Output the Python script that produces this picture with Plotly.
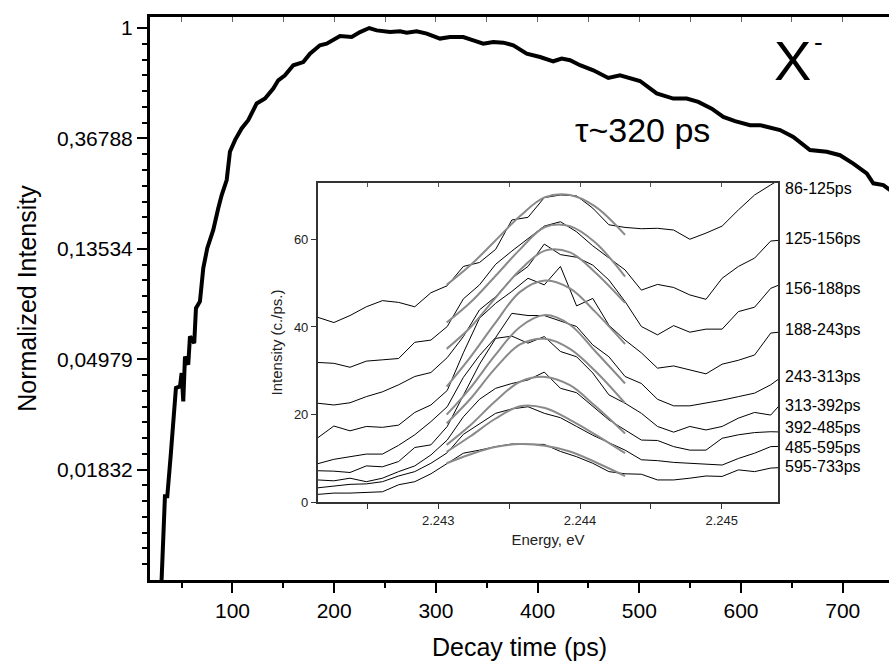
import numpy as np
import plotly.graph_objects as go

# ---------------- main decay curve ----------------
decay_time = [29.2, 30.4, 33.6, 35.9, 39.2, 44.4, 48.4, 50.0, 51.6, 53.3, 56.5, 58.2, 62.4, 64.1, 68.0,
              71.3, 75.2, 81.1, 86.0, 89.4, 94.3, 97.5, 102.5, 109.0, 115.5, 123.8, 132.0, 140.1, 145.0,
              151.6, 159.8, 169.6, 176.2, 186.0, 192.6, 199.1, 205.7, 217.2, 225.4, 234.5, 241.8, 254.9,
              264.7, 271.3, 281.1, 291.0, 304.0, 313.9, 326.9, 336.8, 346.6, 356.4, 366.3, 376.1, 389.3,
              402.4, 415.4, 423.7, 431.9, 441.7, 451.5, 454.8, 469.5, 481.0, 500.7, 517.1, 533.4, 546.6,
              558.0, 571.2, 582.6, 594.1, 608.9, 618.7, 638.4, 651.4, 667.8, 684.3, 697.3, 710.4, 723.6,
              730.1, 739.9, 744.8, 750.0]
norm_intensity = [0.00568, 0.0069, 0.0144, 0.0144, 0.0207, 0.0384, 0.0389, 0.0439, 0.0340, 0.0510, 0.0474,
                  0.0612, 0.0576, 0.0791, 0.0840, 0.1136, 0.1361, 0.1606, 0.1954, 0.2203, 0.2523, 0.3259,
                  0.3623, 0.4026, 0.434, 0.505, 0.528, 0.578, 0.623, 0.652, 0.714, 0.735, 0.793, 0.855,
                  0.868, 0.895, 0.930, 0.922, 0.964, 1.0, 0.979, 0.964, 0.971, 0.959, 0.971, 0.951, 0.909,
                  0.922, 0.922, 0.895, 0.868, 0.881, 0.876, 0.855, 0.793, 0.769, 0.740, 0.758, 0.747,
                  0.714, 0.693, 0.682, 0.636, 0.652, 0.619, 0.553, 0.528, 0.528, 0.512, 0.482, 0.447,
                  0.430, 0.415, 0.415, 0.397, 0.373, 0.331, 0.326, 0.316, 0.293, 0.268, 0.245, 0.241,
                  0.234, 0.225]

y_tickvals = [1, 0.36788, 0.13534, 0.04979, 0.01832]
y_ticktext = ["1", "0,36788", "0,13534", "0,04979", "0,01832"]
x_tickvals = [100, 200, 300, 400, 500, 600, 700]

# ---------------- inset spectra ----------------
energy = [2.242149, 2.242263, 2.242377, 2.242492, 2.242606, 2.242720, 2.242834, 2.242948, 2.243063,
          2.243177, 2.243291, 2.243405, 2.243519, 2.243633, 2.243748, 2.243862, 2.243976, 2.244090,
          2.244204, 2.244318, 2.244433, 2.244547, 2.244661, 2.244775, 2.244889, 2.245003, 2.245118,
          2.245232, 2.245346, 2.245460]

spec_86_125 = [42.2, 41.0, 42.6, 44.6, 46.0, 45.6, 44.6, 47.8, 49.4, 53.8, 54.7, 57.7, 64.4, 65.0, 69.5,
               70.1, 69.9, 67.1, 63.3, 62.7, 62.4, 62.5, 62.1, 60.0, 61.4, 63.0, 66.7, 70.1, 72.4, 74.6]
spec_125_156 = [31.9, 31.7, 30.8, 32.2, 32.5, 32.8, 36.5, 37.0, 40.1, 46.4, 49.6, 54.3, 57.3, 60.2, 63.0,
                64.0, 61.7, 58.5, 55.7, 53.0, 48.4, 49.7, 49.0, 47.3, 46.3, 51.1, 53.8, 55.7, 59.6, 59.9]
spec_156_188 = [22.6, 22.2, 22.7, 24.1, 25.2, 26.8, 28.7, 29.6, 33.0, 37.8, 43.9, 46.9, 51.1, 53.8, 58.9,
                56.5, 55.9, 54.1, 50.7, 45.8, 40.1, 38.2, 40.3, 38.8, 39.5, 39.5, 43.5, 44.5, 48.8, 50.3]
spec_188_243 = [14.7, 17.4, 16.3, 17.3, 17.1, 17.6, 20.5, 22.2, 25.5, 34.1, 42.0, 45.4, 48.1, 51.1, 49.6,
                53.8, 44.8, 46.5, 40.4, 37.0, 34.1, 30.6, 31.1, 30.2, 29.3, 31.5, 32.4, 33.6, 38.6, 39.0]
spec_243_313 = [8.8, 9.8, 10.4, 11.0, 11.0, 13.0, 15.4, 18.4, 21.8, 28.5, 33.5, 37.6, 43.1, 42.6, 42.6,
                41.4, 40.1, 35.9, 33.2, 28.7, 27.1, 23.5, 22.0, 22.0, 22.6, 23.3, 24.1, 24.9, 26.8, 29.5]
spec_313_392 = [7.2, 7.1, 6.8, 8.3, 8.1, 9.3, 12.5, 13.1, 17.3, 24.5, 31.5, 37.4, 37.9, 36.3, 37.8,
                34.4, 33.2, 29.5, 24.5, 22.6, 20.3, 17.3, 16.0, 17.3, 16.5, 17.3, 19.2, 20.5, 19.9, 24.0]
spec_392_485 = [5.1, 4.9, 5.5, 4.7, 5.5, 7.0, 8.3, 10.8, 14.2, 19.5, 23.5, 26.0, 27.1, 27.9, 29.7,
                26.0, 25.0, 21.8, 18.8, 16.5, 14.2, 14.1, 12.7, 11.9, 11.9, 14.6, 15.4, 15.9, 16.1, 16.0]
spec_485_595 = [3.3, 3.7, 4.1, 4.2, 4.7, 6.0, 7.0, 8.9, 11.3, 15.5, 18.0, 20.3, 21.3, 21.8, 20.3,
                19.3, 17.3, 15.3, 13.6, 11.9, 9.7, 9.5, 9.1, 8.9, 8.7, 8.5, 10.0, 11.2, 12.7, 12.8]
spec_595_733 = [1.8, 2.1, 2.1, 2.3, 2.4, 4.0, 4.7, 6.5, 8.9, 11.2, 11.9, 12.7, 13.3, 13.3, 13.2,
                11.6, 10.4, 8.9, 7.0, 6.5, 6.4, 5.1, 5.1, 5.5, 6.0, 5.9, 7.4, 7.0, 7.8, 8.0]

fit_energy = [2.243059, 2.243224, 2.243400, 2.243577, 2.243753, 2.243929, 2.244106, 2.244318]
fit_86_125 = [49.6, 54.0, 59.6, 65.3, 69.6, 70.1, 67.5, 61.0]
fit_125_156 = [41.0, 45.5, 51.5, 57.7, 62.8, 63.0, 59.3, 51.5]
fit_156_188 = [35.0, 39.8, 46.5, 53.0, 57.4, 57.0, 52.5, 45.5]
fit_188_243 = [26.4, 33.0, 40.8, 48.0, 50.6, 48.8, 43.5, 36.1]
fit_243_313 = [20.0, 26.0, 33.5, 40.0, 42.7, 40.5, 34.5, 27.1]
fit_313_392 = [18.0, 23.5, 30.5, 36.0, 37.3, 35.0, 30.0, 22.6]
fit_392_485 = [13.1, 17.5, 23.0, 27.5, 28.6, 26.7, 22.0, 15.7]
fit_485_595 = [11.5, 15.0, 19.0, 21.9, 21.5, 18.8, 15.5, 11.2]
fit_595_733 = [8.9, 10.9, 12.6, 13.3, 12.9, 11.6, 9.2, 6.0]

window_labels = ["86-125ps", "125-156ps", "156-188ps", "188-243ps", "243-313ps",
                 "313-392ps", "392-485ps", "485-595ps", "595-733ps"]
label_y = [71.6, 60.1, 48.8, 39.5, 28.8, 22.0, 17.1, 12.5, 8.1]

spectra = [spec_86_125, spec_125_156, spec_156_188, spec_188_243, spec_243_313,
           spec_313_392, spec_392_485, spec_485_595, spec_595_733]
fits = [fit_86_125, fit_125_156, fit_156_188, fit_188_243, fit_243_313,
        fit_313_392, fit_392_485, fit_485_595, fit_595_733]

FONT = "Liberation Sans, Arial, sans-serif"

fig = go.Figure()

fig.add_trace(go.Scatter(x=decay_time, y=norm_intensity, mode="lines",
                         line=dict(color="black", width=4), xaxis="x", yaxis="y",
                         showlegend=False, hoverinfo="skip"))

for name, s in zip(window_labels, spectra):
    fig.add_trace(go.Scatter(x=energy, y=s, mode="lines", name=name,
                             line=dict(color="black", width=1), xaxis="x2", yaxis="y2",
                             showlegend=False))
for name, f in zip(window_labels, fits):
    fig.add_trace(go.Scatter(x=fit_energy, y=f, mode="lines", name=name + " fit",
                             line=dict(color="#8a8a8a", width=2, shape="spline"),
                             xaxis="x2", yaxis="y2", showlegend=False))

# empty traces so that the top mirror-tick axes are rendered
fig.add_trace(go.Scatter(x=[], y=[], xaxis="x3", yaxis="y", showlegend=False))
fig.add_trace(go.Scatter(x=[], y=[], xaxis="x4", yaxis="y2", showlegend=False))

# minor ticks of the ln-scale axis (uniform in ln, 6 per e-fold)
y_minor = [float(np.exp(-(k + j / 7.0))) for k in range(0, 5) for j in range(1, 7)]

PL, PR, PT, PB = 150, 889, 17, 580
W, H = 889, 664
X_RANGE = [18.9, 745.5]
E_RANGE = [2.242149, 2.2453994]


def px(xp):
    return (xp - PL) / (PR - PL)


def py(yp):
    return (PB - yp) / (PB - PT)


fig.update_layout(
    template="none",
    width=W, height=H,
    margin=dict(l=PL, r=W - PR, t=PT, b=H - PB, pad=0),
    paper_bgcolor="white", plot_bgcolor="white",
    font=dict(family=FONT, color="black"),
    showlegend=False,
    xaxis=dict(
        range=X_RANGE, tickvals=x_tickvals, ticks="outside", ticklen=10, tickwidth=2,
        tickcolor="black", showline=True, linewidth=3, linecolor="black", mirror=True,
        showgrid=False, zeroline=False, tickfont=dict(size=21), automargin=False,
        minor=dict(tickvals=[50, 150, 250, 350, 450, 550, 650], ticks="outside", ticklen=5,
                   tickwidth=2, tickcolor="black", showgrid=False),
        title=dict(text="Decay time (ps)", font=dict(size=25), standoff=18),
    ),
    xaxis3=dict(
        overlaying="x", side="top", anchor="y", range=X_RANGE,
        tickvals=[50, 100, 150, 200, 250, 300, 350, 400, 450, 500, 550, 600, 650, 700],
        ticks="inside", ticklen=5, tickwidth=1, tickcolor="#666", showticklabels=False,
        showline=False, showgrid=False, zeroline=False, automargin=False,
    ),
    yaxis=dict(
        type="log", range=[-5 / np.log(10), 0.1 / np.log(10)],
        tickvals=y_tickvals, ticktext=y_ticktext, ticks="outside", ticklen=10, tickwidth=2,
        tickcolor="black", showline=True, linewidth=3, linecolor="black", mirror=False,
        showgrid=False, zeroline=False, tickfont=dict(size=21), automargin=False,
        minor=dict(tickvals=y_minor, ticks="outside", ticklen=5, tickwidth=2,
                   tickcolor="black", showgrid=False),
        title=dict(text="Normalized Intensity", font=dict(size=25), standoff=14),
    ),
    xaxis2=dict(
        domain=[px(317.7), px(778.3)], anchor="y2", range=E_RANGE,
        tickvals=[2.243, 2.244, 2.245], tickformat=".3f", ticks="outside", ticklen=5,
        tickwidth=1.3, tickcolor="#333", showline=True, linewidth=1.5, linecolor="#333",
        mirror=True, showgrid=False, zeroline=False, tickfont=dict(size=13, color="#222"),
        automargin=False,
        minor=dict(tickvals=[2.2425, 2.2435, 2.2445], ticks="outside", ticklen=5,
                   tickwidth=1.3, tickcolor="#333", showgrid=False),
        title=dict(text="Energy, eV", font=dict(size=15, color="#222"), standoff=8),
    ),
    xaxis4=dict(
        overlaying="x2", side="top", anchor="y2", range=E_RANGE,
        tickvals=[2.2425, 2.243, 2.2435, 2.244, 2.2445, 2.245],
        ticks="inside", ticklen=4, tickwidth=1, tickcolor="#555", showticklabels=False,
        showline=False, showgrid=False, zeroline=False, automargin=False,
    ),
    yaxis2=dict(
        domain=[py(502.3), py(182.7)], anchor="x2", range=[0, 72.9],
        tickvals=[0, 20, 40, 60], ticks="outside", ticklen=5, tickwidth=1.3, tickcolor="#333",
        showline=True, linewidth=1.5, linecolor="#333", mirror=True, showgrid=False,
        zeroline=False, tickfont=dict(size=13, color="#222"), automargin=False,
        title=dict(text="Intensity (c./ps.)", font=dict(size=15, color="#222"), standoff=8),
    ),
)

annotations = [
    dict(text="τ~320 ps", x=px(642.5), y=py(130), xref="paper", yref="paper",
         showarrow=False, font=dict(size=34, family=FONT), xanchor="center", yanchor="middle"),
    dict(text="X", x=px(792), y=py(60), xref="paper", yref="paper",
         showarrow=False, font=dict(size=56, family=FONT), xanchor="center", yanchor="middle"),
    dict(text="-", x=px(818), y=py(42), xref="paper", yref="paper",
         showarrow=False, font=dict(size=26, family=FONT), xanchor="center", yanchor="middle"),
]
for lab, yv in zip(window_labels, label_y):
    annotations.append(dict(text=lab, x=px(783), y=yv, xref="paper", yref="y2",
                            showarrow=False, xanchor="left", yanchor="middle",
                            font=dict(size=16, family=FONT, color="black")))
fig.update_layout(annotations=annotations)

fig.write_html("out.html")
